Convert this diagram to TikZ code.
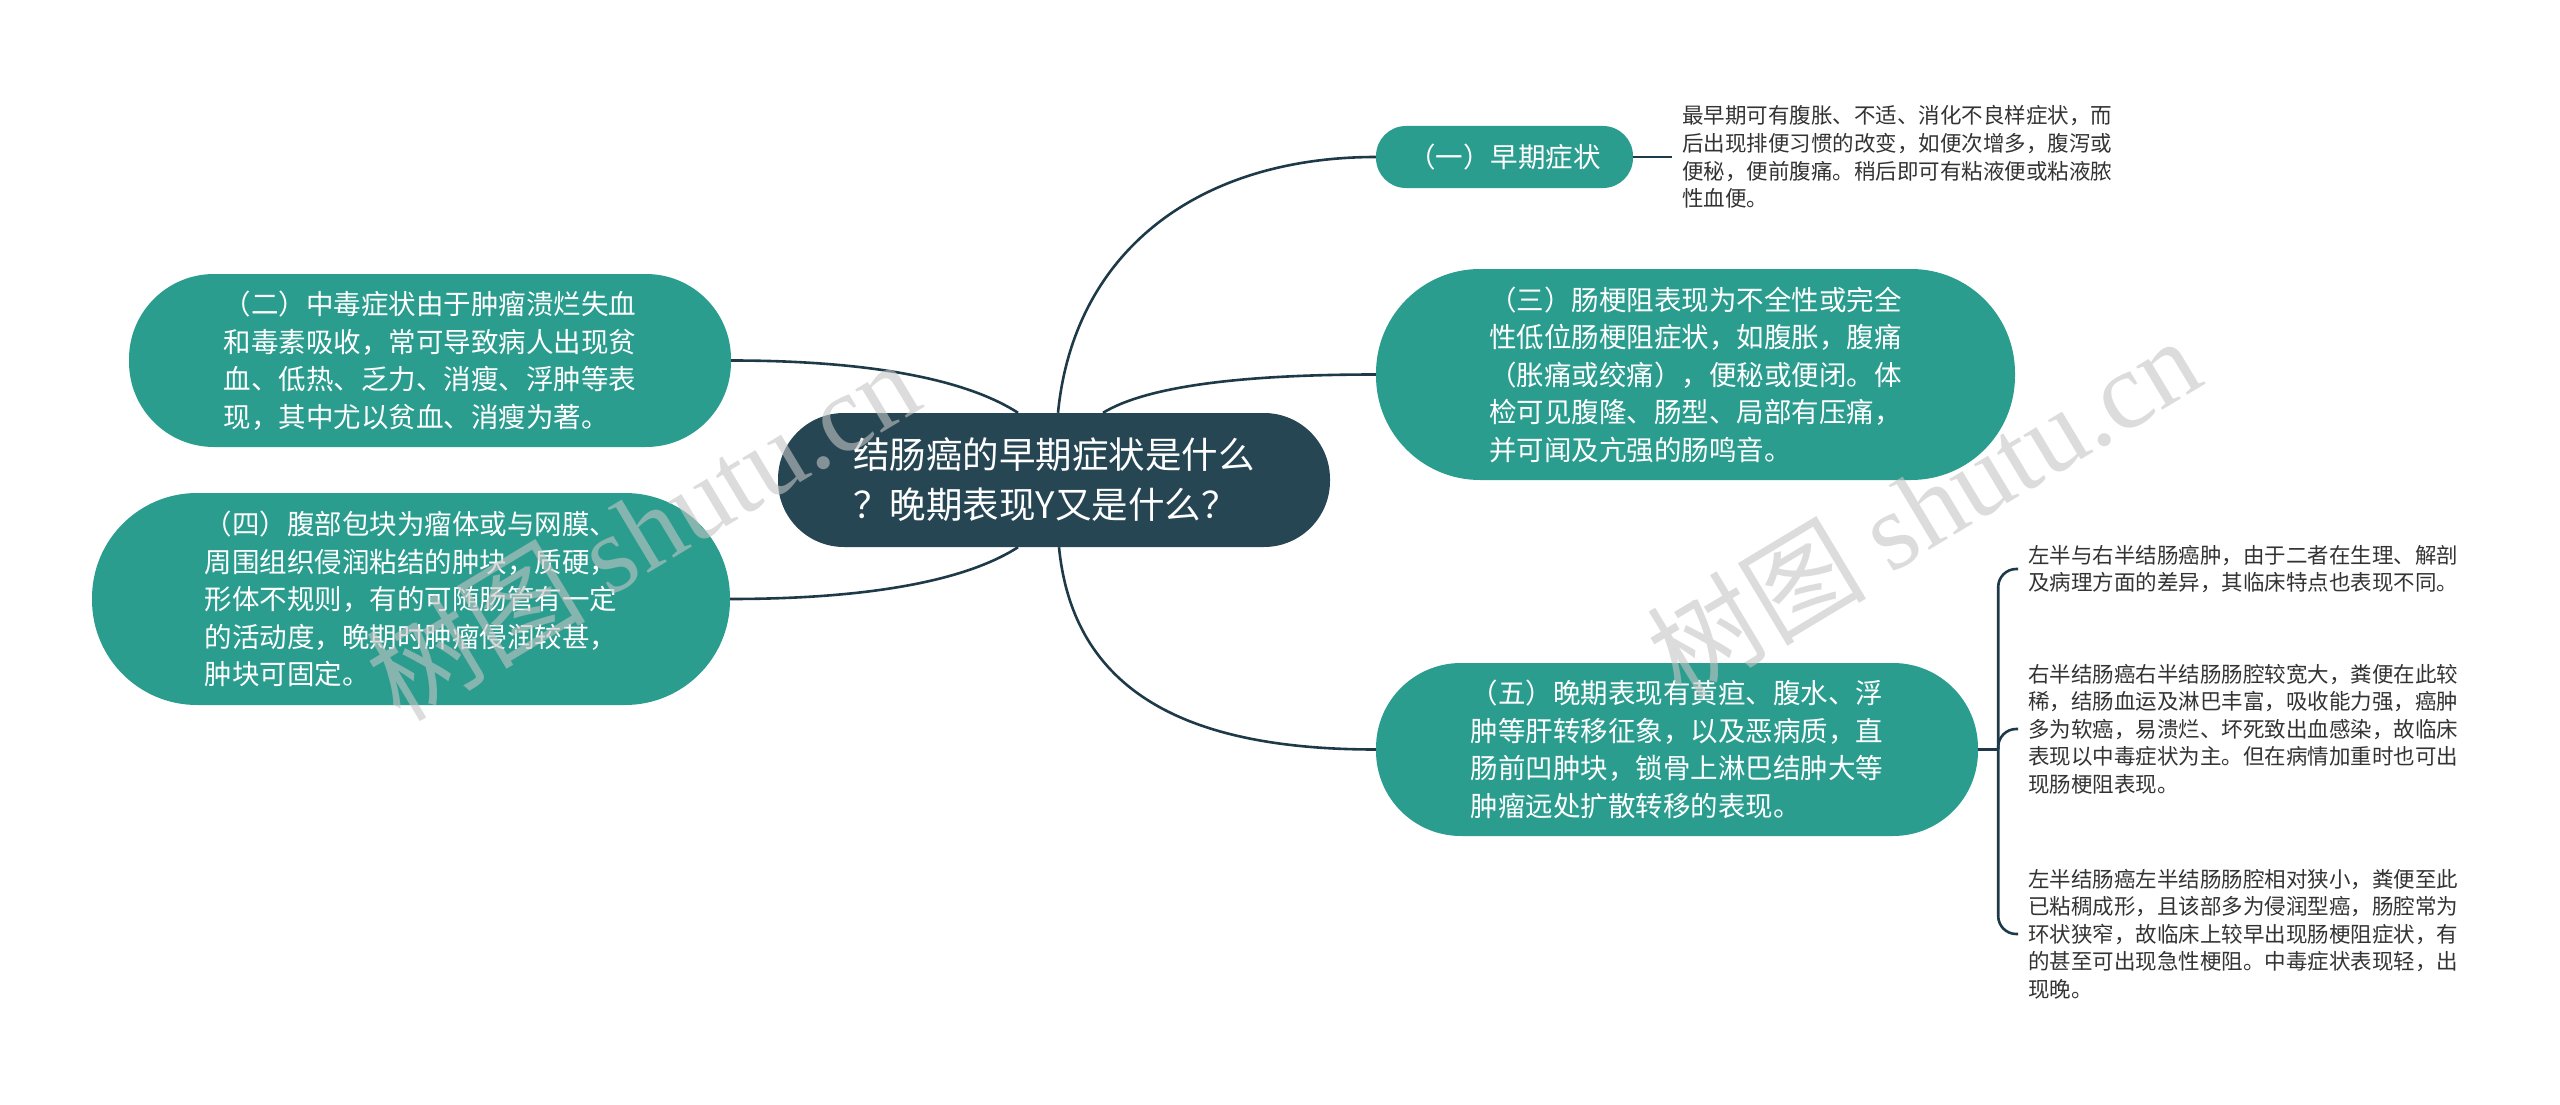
\documentclass[tikz,border=0pt]{standalone}
\usepackage{fontspec}
\setmainfont{Noto Sans CJK SC}
\newfontfamily\wmlatin{Liberation Serif}
\usetikzlibrary{positioning}

\definecolor{rootdark}{HTML}{264653}
\definecolor{nodeteal}{HTML}{2A9D8F}
\definecolor{linkdark}{HTML}{1E3A48}
\definecolor{leafgray}{HTML}{333333}
\definecolor{wmgray}{HTML}{C4C4C4}

\tikzset{
  pill/.style={rectangle, rounded corners=#1, fill=nodeteal, text=white, align=left,
    inner sep=0pt, font=\fontsize{27.5pt}{37.5pt}\selectfont},
  rootpill/.style={pill=#1, fill=rootdark, font=\fontsize{36.5pt}{50pt}\selectfont},
  leaf/.style={anchor=west, align=left, inner xsep=10pt, inner ysep=0pt, text=leafgray,
    font=\fontsize{21.5pt}{27.6pt}\selectfont},
  link/.style={draw=linkdark, line width=2.6pt},
  watermark/.style={rotate=31, text=wmgray, opacity=0.6,
    font=\fontsize{110pt}{110pt}\selectfont}
}

\begin{document}
\begin{tikzpicture}[x=1pt, y=-1pt]
\useasboundingbox (0,0) rectangle (2560,1105);

\node[rootpill=66pt, minimum width=552pt, minimum height=134pt] (root) at (1054,480)
  {结肠癌的早期症状是什么\\？晚期表现Y又是什么？};

\node[pill=30pt, minimum width=257pt, minimum height=62pt] (first) at (1504.5,157)
  {（一）早期症状};
\node[pill=104pt, minimum width=639pt, minimum height=211pt] (third) at (1695.5,374.5)
  {（三）肠梗阻表现为不全性或完全\\性低位肠梗阻症状，如腹胀，腹痛\\（胀痛或绞痛），便秘或便闭。体\\检可见腹隆、肠型、局部有压痛，\\并可闻及亢强的肠鸣音。};
\node[pill=85pt, minimum width=602pt, minimum height=173pt] (fifth) at (1677,749.5)
  {（五）晚期表现有黄疸、腹水、浮\\肿等肝转移征象，以及恶病质，直\\肠前凹肿块，锁骨上淋巴结肿大等\\肿瘤远处扩散转移的表现。};
\node[pill=85pt, minimum width=602pt, minimum height=173pt] (second) at (430,360.5)
  {（二）中毒症状由于肿瘤溃烂失血\\和毒素吸收，常可导致病人出现贫\\血、低热、乏力、消瘦、浮肿等表\\现，其中尤以贫血、消瘦为著。};
\node[pill=105pt, minimum width=638pt, minimum height=212pt] (fourth) at (411,599)
  {（四）腹部包块为瘤体或与网膜、\\周围组织侵润粘结的肿块，质硬，\\形体不规则，有的可随肠管有一定\\的活动度，晚期时肿瘤侵润较甚，\\肿块可固定。};

\node[leaf, right=39pt of first] (early)
  {最早期可有腹胀、不适、消化不良样症状，而\\后出现排便习惯的改变，如便次增多，腹泻或\\便秘，便前腹痛。稍后即可有粘液便或粘液脓\\性血便。};

\coordinate[right=20pt of fifth] (fork);
\node[leaf] (halves) at (2018,569)
  {左半与右半结肠癌肿，由于二者在生理、解剖\\及病理方面的差异，其临床特点也表现不同。};
\node[leaf] (rightside) at (2018,729)
  {右半结肠癌右半结肠肠腔较宽大，粪便在此较\\稀，结肠血运及淋巴丰富，吸收能力强，癌肿\\多为软癌，易溃烂、坏死致出血感染，故临床\\表现以中毒症状为主。但在病情加重时也可出\\现肠梗阻表现。};
\node[leaf] (leftside) at (2018,934)
  {左半结肠癌左半结肠肠腔相对狭小，粪便至此\\已粘稠成形，且该部多为侵润型癌，肠腔常为\\环状狭窄，故临床上较早出现肠梗阻症状，有\\的甚至可出现急性梗阻。中毒症状表现轻，出\\现晚。};

\draw[link] ([xshift=4pt]root.north) .. controls +(16,-163) and +(-176,0) .. (first.west);
\draw[link] ([xshift=49pt]root.north) .. controls +(46,-28) and +(-126,0) .. (third.west);
\draw[link] ([xshift=-36pt]root.north) .. controls +(-59,-38) and +(120,0) .. (second.east);
\draw[link] ([xshift=-36pt]root.south) .. controls +(-59,38) and +(120,0) .. (fourth.east);
\draw[link] ([xshift=5pt]root.south) .. controls +(15,153) and +(-176,0) .. (fifth.west);

\draw[link] (first.east) -- (early.west);
\draw[link] (fifth.east) -- (fork);
\draw[link, rounded corners=18pt] (fork) |- (halves.west);
\draw[link, rounded corners=18pt] (fork) |- (rightside.west);
\draw[link, rounded corners=18pt] (fork) |- (leftside.west);

\node[watermark] (wmleft) at (642,529) {树图 {\wmlatin shutu.cn}};
\node[watermark] (wmright) at (1923,506) {树图 {\wmlatin shutu.cn}};
\end{tikzpicture}
\end{document}
